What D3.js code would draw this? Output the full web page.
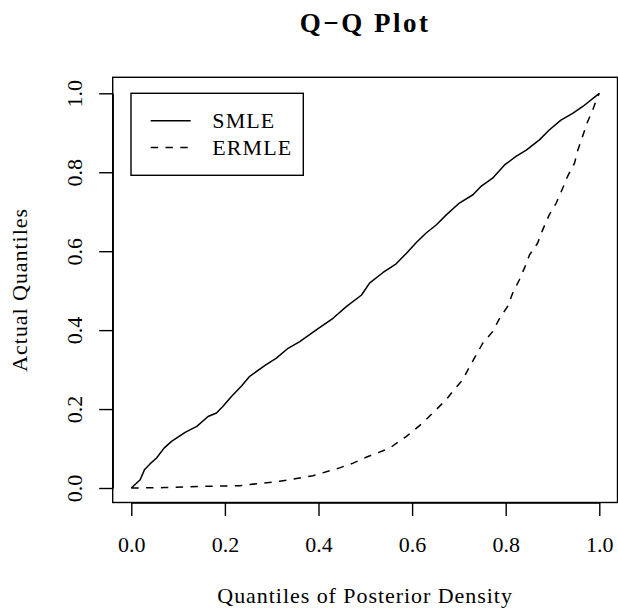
<!DOCTYPE html>
<html>
<head>
<meta charset="utf-8">
<script src="https://cdn.jsdelivr.net/npm/d3@7"></script>
<style>
  html, body { margin: 0; padding: 0; background: #fff; }
  svg { display: block; }
  text { font-family: "Liberation Serif", "Times New Roman", serif; fill: #000; }
</style>
</head>
<body>
<svg id="chart" width="618" height="608"></svg>
<script>
// ---- data ----
const chartTitle = "Q\u2212Q Plot";
const xLabel = "Quantiles of Posterior Density";
const yLabel = "Actual Quantiles";
const seriesNames = ["SMLE", "ERMLE"];
const xTicks = [0, 0.2, 0.4, 0.6, 0.8, 1.0];
const yTicks = [0, 0.2, 0.4, 0.6, 0.8, 1.0];

const smleX = [0, .019, .028, .04, .054, .07, .086, .115, .14, .164, .182, .196, .214, .236, .253, .285, .31, .335, .36, .396, .431, .46, .492, .509, .538, .566, .588, .609, .63, .652, .673, .701, .73, .748, .772, .797, .822, .844, .872, .893, .918, .943, .964, .996, 1];
const smleY = [0, .021, .046, .061, .076, .101, .118, .141, .156, .181, .19, .207, .232, .259, .283, .31, .329, .354, .371, .401, .43, .46, .489, .519, .546, .568, .595, .622, .646, .667, .692, .722, .743, .765, .785, .818, .84, .856, .882, .907, .932, .949, .966, .996, 1];

const ermleX = [0, .07, .147, .232, .317, .388, .445, .474, .502, .552, .588, .623, .673, .687, .708, .723, .737, .751, .772, .787, .804, .815, .829, .84, .851, .868, .879, .893, .908, .922, .932, .947, .954, .964, .975, .986, .996, 1];
const ermleY = [0, .001, .004, .006, .017, .031, .051, .063, .078, .101, .131, .165, .224, .245, .274, .308, .337, .367, .396, .43, .46, .494, .527, .557, .591, .62, .654, .692, .722, .76, .789, .823, .856, .89, .928, .958, .991, 1];

// ---- layout ----
const box = { left: 112.7, right: 617.5, top: 77.3, bottom: 502.5 };
const svg = d3.select("#chart");

const x = d3.scaleLinear().domain([0, 1]).range([131.3, 599.3]);
const y = d3.scaleLinear().domain([0, 1]).range([488.0, 93.3]);

const fmt = d3.format(".1f");
const tickLen = 13.5;

// plot box
svg.append("rect")
  .attr("x", box.left).attr("y", box.top)
  .attr("width", box.right - box.left).attr("height", box.bottom - box.top)
  .attr("fill", "none").attr("stroke", "#000").attr("stroke-width", 1.4);

// x axis
const gx = svg.append("g").attr("transform", `translate(0,${box.bottom})`)
  .call(d3.axisBottom(x).tickValues(xTicks).tickFormat(fmt).tickSize(tickLen).tickSizeOuter(0));
gx.select(".domain").attr("stroke", "#000").attr("stroke-width", 1.4);
gx.selectAll(".tick line").attr("stroke", "#000").attr("stroke-width", 1.4);
gx.selectAll(".tick text")
  .attr("y", 49.2).attr("dy", null)
  .style("font-family", "'Liberation Serif', serif").style("font-size", "22px").attr("fill", "#000");

// y axis
const gy = svg.append("g").attr("transform", `translate(${box.left},0)`)
  .call(d3.axisLeft(y).tickValues(yTicks).tickFormat(fmt).tickSize(tickLen).tickSizeOuter(0));
gy.select(".domain").attr("stroke", "#000").attr("stroke-width", 1.4);
gy.selectAll(".tick line").attr("stroke", "#000").attr("stroke-width", 1.4);
gy.selectAll(".tick text")
  .attr("x", null).attr("dy", null)
  .attr("text-anchor", "middle")
  .attr("transform", "translate(-31,0) rotate(-90)")
  .style("font-family", "'Liberation Serif', serif").style("font-size", "22px").attr("fill", "#000");

// lines
const line = d3.line().x(d => x(d[0])).y(d => y(d[1]));
const smle = smleX.map((v, i) => [v, smleY[i]]);
const ermle = ermleX.map((v, i) => [v, ermleY[i]]);

svg.append("path").datum(smle).attr("d", line)
  .attr("fill", "none").attr("stroke", "#000").attr("stroke-width", 1.5)
  .attr("stroke-linejoin", "round");
svg.append("path").datum(ermle).attr("d", line)
  .attr("fill", "none").attr("stroke", "#000").attr("stroke-width", 1.5)
  .attr("stroke-dasharray", "7.4,7.4");

// title
svg.append("text").attr("x", (box.left + box.right) / 2).attr("y", 32)
  .attr("text-anchor", "middle")
  .style("font-size", "27px").style("font-weight", "bold").style("letter-spacing", "2.5px")
  .text(chartTitle);

// axis titles
svg.append("text").attr("x", (box.left + box.right) / 2).attr("y", 603)
  .attr("text-anchor", "middle")
  .style("font-size", "22px").style("letter-spacing", "0.95px")
  .text(xLabel);
svg.append("text")
  .attr("transform", `translate(26.7,${(box.top + box.bottom) / 2}) rotate(-90)`)
  .attr("text-anchor", "middle")
  .style("font-size", "22px").style("letter-spacing", "0.95px")
  .text(yLabel);

// legend
const lg = svg.append("g");
lg.append("rect").attr("x", 131).attr("y", 93.3).attr("width", 172.3).attr("height", 82)
  .attr("fill", "#fff").attr("stroke", "#000").attr("stroke-width", 1.4);
const legendY = [120.7, 147.5];
const dashes = [null, "7.4,7.4"];
seriesNames.forEach((name, i) => {
  lg.append("line").attr("x1", 150.7).attr("x2", 190.7)
    .attr("y1", legendY[i]).attr("y2", legendY[i])
    .attr("stroke", "#000").attr("stroke-width", 1.5)
    .attr("stroke-dasharray", dashes[i]);
  lg.append("text").attr("x", 212.3).attr("y", legendY[i] + 7.6)
    .style("font-size", "22px").style("letter-spacing", "1.1px")
    .text(name);
});
</script>
</body>
</html>
